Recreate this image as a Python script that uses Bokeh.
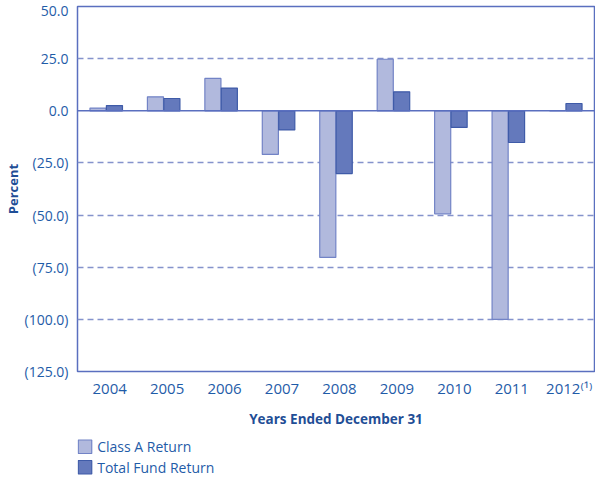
import numpy as np
from bokeh.plotting import figure
from bokeh.layouts import column
from bokeh.models import Range1d, FixedTicker, Span
from bokeh.core.properties import value
from bokeh.embed import file_html
from bokeh.resources import INLINE

years = ["2004", "2005", "2006", "2007", "2008", "2009", "2010", "2011", "2012"]
year_labels = ["2004", "2005", "2006", "2007", "2008", "2009", "2010", "2011", "2012\u207d\u00b9\u207e"]
class_a = [1.3, 6.7, 15.5, -20.9, -70.3, 24.7, -49.4, -100.0, 0.0]
total_fund = [2.5, 5.9, 10.9, -9.2, -30.1, 9.1, -8.0, -15.2, 3.5]
y_ticks = [50, 25, 0, -25, -50, -75, -100, -125]
y_tick_labels = ["50.0", "25.0", "0.0", "(25.0)", "(50.0)", "(75.0)", "(100.0)", "(125.0)"]
grid_ticks = [25, -25, -50, -75, -100]
series_names = ["Class A Return", "Total Fund Return"]

FONT = "Open Sans"
TXT = "#1f5ca8"
DARK = "#1f4e96"
FRAME = "#5a6fbf"
FILLS = ["#b1b9dd", "#6479bc"]
LINES = ["#7283c6", "#3f5ba8"]

W = 595
LEFT = 75
RIGHT = 1
xs = np.arange(len(years))
shift = 0.06
half = 0.143
bw = 0.28

p = figure(width=W, height=430, output_backend="svg", toolbar_location=None,
           x_range=Range1d(-0.5 - shift, 8.5 - shift), y_range=Range1d(-125, 50),
           min_border_left=LEFT, min_border_right=RIGHT, min_border_top=6, min_border_bottom=59)
p.background_fill_color = "white"
p.border_fill_color = "white"
p.outline_line_color = FRAME
p.outline_line_width = 1.5

p.vbar(x=xs - shift - half, top=class_a, bottom=0, width=bw,
       fill_color=FILLS[0], line_color=LINES[0], line_width=1.2)
p.vbar(x=xs - shift + half, top=total_fund, bottom=0, width=bw,
       fill_color=FILLS[1], line_color=LINES[1], line_width=1.2)

p.add_layout(Span(location=0, dimension="width", line_color=FRAME, line_width=1.5))

p.xgrid.visible = False
p.ygrid.ticker = FixedTicker(ticks=grid_ticks)
p.ygrid.grid_line_color = "#8593cc"
p.ygrid.grid_line_dash = "6 4"
p.ygrid.grid_line_width = 1.5

for ax in (p.xaxis[0], p.yaxis[0]):
    ax.axis_line_alpha = 0
    ax.major_tick_out = 0
    ax.major_tick_in = 0
    ax.minor_tick_out = 0
    ax.minor_tick_in = 0
    ax.major_label_text_font = FONT
    ax.major_label_text_color = TXT
    ax.axis_label_text_font = FONT
    ax.axis_label_text_font_style = "bold"
    ax.axis_label_text_color = DARK

p.xaxis.ticker = FixedTicker(ticks=list(xs))
p.xaxis.major_label_overrides = {int(i): lab for i, lab in zip(xs, year_labels)}
p.xaxis.major_label_text_font_size = "15px"
p.xaxis.major_label_standoff = 6
p.xaxis.axis_label = "Years Ended December 31"
p.xaxis.axis_label_text_font_size = "13.5px"
p.xaxis.axis_label_standoff = 9

p.yaxis.ticker = FixedTicker(ticks=y_ticks)
p.yaxis.major_label_overrides = {t: lab for t, lab in zip(y_ticks, y_tick_labels)}
p.yaxis.major_label_text_font_size = "14px"
p.yaxis.major_label_standoff = 9
p.yaxis.axis_label = "Percent"
p.yaxis.axis_label_text_font_size = "13px"
p.yaxis.axis_label_standoff = 0

# legend strip below the chart; its frame lines up with the chart frame (pixel coords, y up)
QH = 47
FW = W - LEFT - RIGHT
q = figure(width=W, height=QH, output_backend="svg", toolbar_location=None,
           x_range=Range1d(0, FW), y_range=Range1d(0, QH),
           x_axis_location=None, y_axis_location=None,
           min_border_left=LEFT, min_border_right=RIGHT, min_border_top=0, min_border_bottom=0)
q.outline_line_color = None
q.grid.visible = False
q.background_fill_color = "white"
q.border_fill_color = "white"

SW = 13.5    # swatch size
ROW = 20.5   # row pitch
top0 = QH - 9.5
for i, name in enumerate(series_names):
    t = top0 - i * ROW
    q.quad(left=[0.8], right=[0.8 + SW], top=[t], bottom=[t - SW],
           fill_color=FILLS[i], line_color=LINES[i], line_width=1.2)
    q.text(x=[0.8 + SW + 5.5], y=[t - SW / 2], text=[name],
           text_font=value(FONT), text_font_size="14px", text_color=TXT,
           text_align="left", text_baseline="middle")

layout = column(p, q, spacing=0)
open("out.html", "w").write(file_html(layout, INLINE))
